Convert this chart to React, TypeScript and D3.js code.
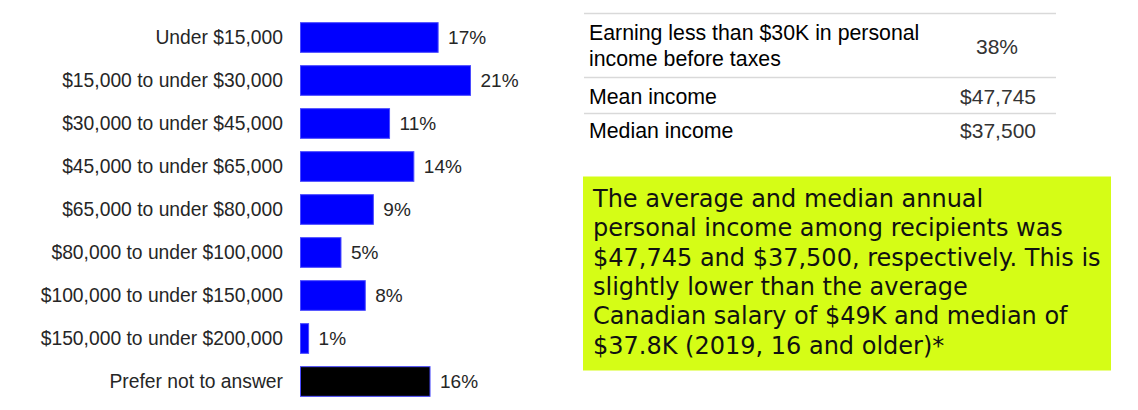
import React from "react";
import * as d3 from "d3";

const categories = [
  "Under $15,000",
  "$15,000 to under $30,000",
  "$30,000 to under $45,000",
  "$45,000 to under $65,000",
  "$65,000 to under $80,000",
  "$80,000 to under $100,000",
  "$100,000 to under $150,000",
  "$150,000 to under $200,000",
  "Prefer not to answer",
];
const values = [17, 21, 11, 14, 9, 5, 8, 1, 16];
const barColors = ["#0000ff", "#0000ff", "#0000ff", "#0000ff", "#0000ff", "#0000ff", "#0000ff", "#0000ff", "#000000"];

const tableLabels = [["Earning less than $30K in personal", "income before taxes"], ["Mean income"], ["Median income"]];
const tableValues = ["38%", "$47,745", "$37,500"];

const noteLines = [
  "The average and median annual",
  "personal income among recipients was",
  "$47,745 and $37,500, respectively. This is",
  "slightly lower than the average",
  "Canadian salary of $49K and median of",
  "$37.8K (2019, 16 and older)*",
];

export default function App() {
  const W = 1138;
  const H = 410;
  const x = d3.scaleLinear().domain([0, 21]).range([300.5, 470.5]);
  const y = d3.scaleBand<string>().domain(categories).range([16, 403]).paddingInner(0.31).paddingOuter(0.155);
  const font = "'Liberation Sans', Arial, sans-serif";

  const tLeft = 584;
  const tRight = 1056;
  const rowLines = [13.5, 77.5, 113.5];
  const rowTextY = [[40, 66], [104], [138]];
  const valueX = [997, 1036, 1036];
  const valueAnchor = ["middle", "end", "end"];
  const valueY = [54, 104, 138];

  return (
    <svg width={W} height={H} style={{ position: "absolute", left: 0, top: 0, background: "#fff" }}>
      <rect width={W} height={H} fill="#fff" />
      {categories.map((c, i) => (
        <g key={c}>
          <text
            x={283}
            y={(y(c) as number) + y.bandwidth() / 2}
            dy="0.35em"
            textAnchor="end"
            fontFamily={font}
            fontSize={19.3}
            fill="#262626"
          >
            {c}
          </text>
          <rect
            x={x(0)}
            y={y(c)}
            width={x(values[i]) - x(0)}
            height={y.bandwidth()}
            fill={barColors[i]}
            stroke="#4a4aff"
            strokeWidth={1}
          />
          <text
            x={x(values[i]) + 10}
            y={(y(c) as number) + y.bandwidth() / 2}
            dy="0.35em"
            fontFamily={font}
            fontSize={19}
            fill="#262626"
          >
            {values[i] + "%"}
          </text>
        </g>
      ))}

      {rowLines.map((ly, i) => (
        <line key={i} x1={tLeft} x2={tRight} y1={ly} y2={ly} stroke="#d9d9d9" strokeWidth={1.5} />
      ))}
      {tableLabels.map((lines, i) => (
        <g key={i}>
          {lines.map((t, j) => (
            <text key={j} x={589} y={rowTextY[i][j]} fontFamily={font} fontSize={21.3} fill="#000">
              {t}
            </text>
          ))}
          <text
            x={valueX[i]}
            y={valueY[i]}
            textAnchor={valueAnchor[i] as any}
            fontFamily={font}
            fontSize={21}
            fill="#333"
          >
            {tableValues[i]}
          </text>
        </g>
      ))}

      <rect x={583} y={176.5} width={528} height={194} fill="#d5fd16" />
      {noteLines.map((t, i) => (
        <text
          key={i}
          x={593}
          y={207 + i * 29.3}
          fontFamily="'DejaVu Sans', sans-serif"
          fontSize={24}
          fill="#111"
        >
          {t}
        </text>
      ))}
    </svg>
  );
}
